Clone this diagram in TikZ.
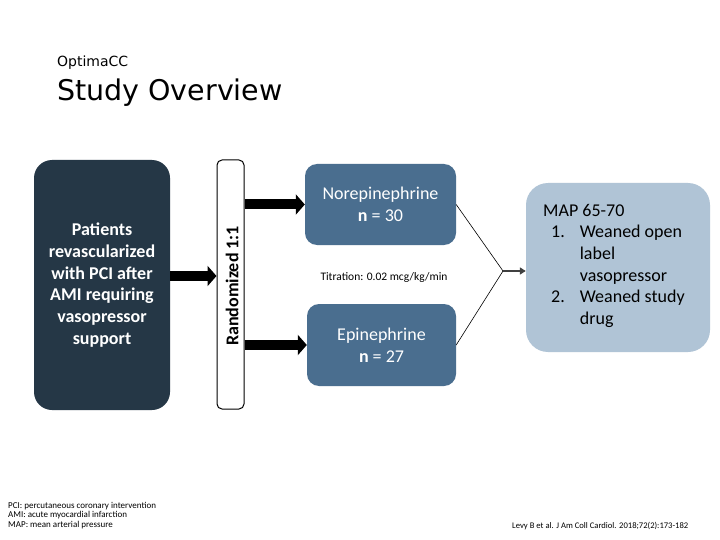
\documentclass[tikz,border=0pt]{standalone}
\usepackage{fontspec}
\setmainfont{Carlito}
\newfontfamily\titlefont{DejaVu Sans}
\usetikzlibrary{arrows.meta}
\definecolor{navy}{HTML}{253746}
\definecolor{steel}{HTML}{4A6E8F}
\definecolor{pale}{HTML}{B0C4D6}
\definecolor{darkgr}{HTML}{404040}
\begin{document}
\begin{tikzpicture}[x=1pt,y=-1pt,
  bigtext/.style={font=\fontsize{18}{21.7}\selectfont, align=center, inner sep=0pt},
  navybox/.style={fill=navy, rounded corners=18pt, minimum width=136pt, minimum height=250pt, text=white, bigtext},
  steelbox/.style={fill=steel, rounded corners=12pt, text=white, bigtext},
  palebox/.style={fill=pale, rounded corners=22pt, minimum width=184pt, minimum height=169pt},
  randbox/.style={draw=black, line width=1pt, fill=white, rounded corners=5pt, minimum width=27pt, minimum height=249pt},
  bigarrow/.style={line width=10pt, -{Triangle[length=9pt,width=20pt]}, black},
  smallarrow/.style={line width=2pt, darkgr, -{Triangle[length=6pt,width=7pt]}},
  thinline/.style={line width=0.6pt, black},
  foot/.style={font=\fontsize{9}{9.3}\selectfont, anchor=base west, inner sep=0pt}
]
\useasboundingbox[fill=white] (0,0) rectangle (720,540);

% titles
\node[anchor=base west, inner sep=0pt, font=\titlefont\fontsize{14}{16}\selectfont] (sup) at (57,67) {OptimaCC};
\node[anchor=base west, inner sep=0pt, font=\titlefont\fontsize{28.5}{32}\selectfont] (title) at (57,101) {Study Overview};

% boxes
\node[navybox, font=\fontsize{18}{21.7}\selectfont\bfseries] (pat) at (102,285) {Patients\\revascularized\\with PCI after\\AMI requiring\\vasopressor\\support};
\node[randbox] (rand) at (230.5,284.5) {};
\node[rotate=90, inner sep=0pt, font=\fontsize{18}{21.7}\selectfont\bfseries] (randtxt) at (232,286) {Randomized 1:1};

\node[steelbox, minimum width=151pt, minimum height=81pt] (nore) at (380.5,204.5) {Norepinephrine\\\textbf{n} = 30};
\node[steelbox, minimum width=149pt, minimum height=82pt] (epi) at (381.5,345) {Epinephrine\\\textbf{n} = 27};
\node[font=\fontsize{11.5}{13}\selectfont, inner sep=0pt] (titr) at (384,277) {Titration: 0.02 mcg/kg/min};

\node[palebox] (map) at (618,267.5) {};
\node[anchor=west, inner sep=0pt, font=\fontsize{18}{21.7}\selectfont] (maptxt) at (543,266)
  {\begin{tabular}{@{}l@{\hspace{15pt}}l@{}}
   \multicolumn{2}{@{}l}{MAP 65-70}\\
   \hspace{8pt}1. & Weaned open\\
    & label\\
    & vasopressor\\
   \hspace{8pt}2. & Weaned study\\
    & drug
   \end{tabular}};

\coordinate (conv) at (503,271);

% connectors
\draw[bigarrow] (pat.east |- 0,276) -- (rand.west |- 0,276);
\draw[bigarrow] (rand.east |- nore.west) -- (nore.west);
\draw[bigarrow] (rand.east |- epi.west) -- (epi.west);
\draw[thinline] (nore.east) -- (conv) -- (epi.east);
\draw[smallarrow] (conv) -- (map.west |- conv);

% footnotes
\node[foot] (f1) at (8,508) {PCI: percutaneous coronary intervention};
\node[foot] (f2) at (8,517.5) {AMI: acute myocardial infarction};
\node[foot] (f3) at (8,527) {MAP: mean arterial pressure};
\node[font=\fontsize{8.6}{9}\selectfont, anchor=base west, inner sep=0pt] (cite) at (512,528.5) {Levy B et al. J Am Coll Cardiol. 2018;72(2):173-182};
\end{tikzpicture}
\end{document}
